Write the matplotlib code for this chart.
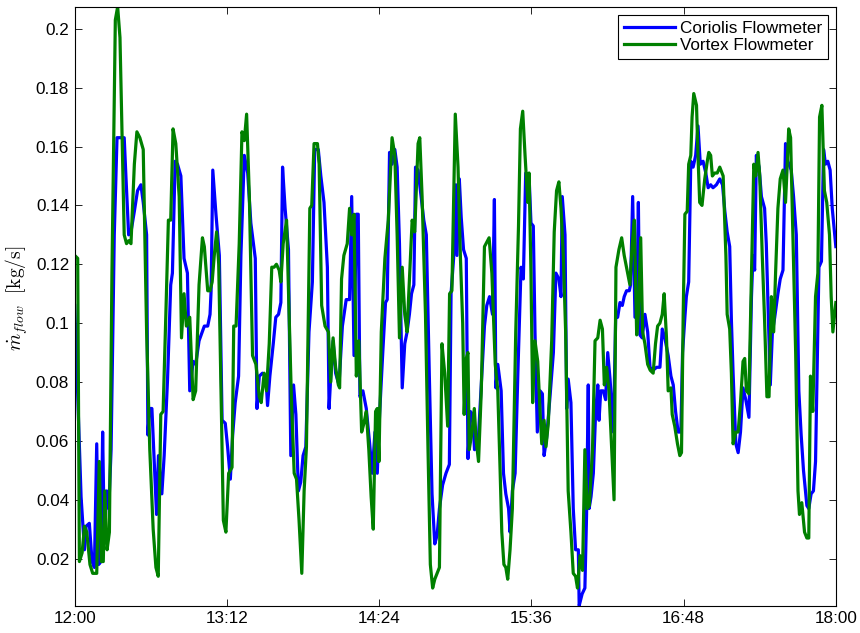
import matplotlib
matplotlib.use("Agg")
import matplotlib.pyplot as plt
import matplotlib.ticker as mticker

plt.rcParams['font.family'] = ['Liberation Sans', 'DejaVu Sans']
plt.rcParams['mathtext.fontset'] = 'cm'

# minutes after 12:00 and mass flow [kg/s]
coriolis_t = [0.0, 3.0, 4.6, 5.4, 6.9, 8.2, 9.3, 10.4, 11.3, 12.4, 13.2, 14.0, 15.1, 16.1, 17.2,
              18.7, 20.0, 21.9, 23.4, 24.2, 25.5, 26.6, 28.2, 29.7, 31.3, 32.4, 34.0, 34.6, 35.4,
              36.5, 38.7, 39.6, 41.2, 42.3, 43.9, 45.4, 46.2, 47.5, 48.6, 50.2, 51.7, 53.3, 54.4,
              56.0, 57.2, 58.8, 61.3, 62.9, 64.0, 64.5, 65.3, 66.8, 68.4, 69.7, 71.2, 72.3, 73.6,
              74.7, 75.9, 77.5, 78.6, 80.2, 81.8, 83.3, 85.4, 86.2, 87.3, 88.8, 90.4, 91.2, 92.3,
              93.9, 95.1, 96.4, 97.5, 98.3, 99.5, 101.1, 102.2, 103.5, 104.6, 105.8, 106.9, 108.0,
              109.3, 110.8, 112.4, 113.5, 115.2, 116.4, 117.9, 119.5, 120.3, 121.1, 122.2, 123.4,
              125.0, 126.6, 128.4, 130.0, 131.0, 132.1, 133.2, 134.1, 134.9, 136.3, 137.9, 139.5,
              140.7, 142.0, 143.1, 144.2, 145.7, 147.0, 147.8, 148.9, 150.1, 151.4, 152.5, 153.6,
              154.9, 156.1, 157.2, 158.3, 159.3, 160.4, 161.2, 162.4, 163.5, 165.1, 166.3, 167.7,
              169.0, 170.3, 171.4, 172.5, 174.0, 175.6, 177.2, 178.0, 179.2, 180.3, 180.8, 181.9,
              182.8, 183.9, 185.2, 186.0, 187.1, 188.2, 189.1, 190.7, 192.3, 193.8, 194.9, 196.2,
              197.6, 198.5, 199.2, 200.1, 201.7, 202.8, 203.9, 205.2, 205.9, 207.0, 208.3, 209.6,
              211.1, 212.2, 213.3, 214.9, 215.8, 216.9, 217.7, 218.8, 220.1, 221.2, 222.0, 223.2,
              224.8, 226.4, 227.6, 229.0, 230.0, 230.6, 231.9, 232.7, 233.4, 234.7, 235.8, 236.9,
              238.2, 238.6, 240.0, 241.3, 242.1, 242.9, 243.3, 244.2, 245.3, 246.4, 247.4, 248.0,
              248.8, 250.0, 251.1, 252.1, 253.2, 254.8, 255.9, 256.8, 257.9, 259.0, 259.9, 261.0,
              262.3, 262.9, 263.9, 265.0, 265.8, 266.6, 267.3, 268.4, 269.7, 271.0, 272.1, 273.6,
              275.2, 276.8, 277.9, 279.1, 280.7, 282.0, 283.1, 284.2, 285.4, 286.7, 287.5, 288.6,
              289.3, 290.4, 291.4, 292.5, 293.7, 294.8, 295.9, 297.2, 298.5, 299.6, 300.8, 301.9,
              303.5, 305.1, 306.4, 307.5, 308.6, 309.8, 310.6, 311.4, 312.7, 313.8, 314.9, 316.1,
              317.4, 318.9, 320.1, 320.8, 321.6, 322.4, 323.7, 324.8, 326.3, 327.1, 327.9, 329.0,
              330.0, 331.1, 332.6, 333.7, 335.0, 336.2, 337.3, 338.9, 340.0, 341.3, 342.5, 343.6,
              344.7, 346.3, 347.2, 348.3, 349.4, 350.4, 351.0, 352.0, 353.2, 354.2, 355.1, 356.2,
              357.3, 358.3, 360.0]
coriolis_m = [0.106, 0.041, 0.023, 0.031, 0.032, 0.019, 0.017, 0.059, 0.018, 0.019, 0.063, 0.026,
              0.043, 0.037, 0.057, 0.130, 0.163, 0.163, 0.163, 0.150, 0.130, 0.131, 0.138, 0.145,
              0.147, 0.141, 0.130, 0.062, 0.071, 0.071, 0.035, 0.055, 0.042, 0.055, 0.081, 0.113,
              0.117, 0.155, 0.154, 0.150, 0.122, 0.117, 0.077, 0.087, 0.086, 0.094, 0.099, 0.099,
              0.103, 0.111, 0.152, 0.137, 0.123, 0.067, 0.066, 0.058, 0.047, 0.062, 0.073, 0.082,
              0.123, 0.157, 0.151, 0.134, 0.122, 0.071, 0.082, 0.083, 0.082, 0.072, 0.082, 0.093,
              0.102, 0.103, 0.107, 0.153, 0.139, 0.125, 0.055, 0.079, 0.069, 0.043, 0.046, 0.055,
              0.058, 0.097, 0.114, 0.159, 0.159, 0.150, 0.141, 0.119, 0.071, 0.082, 0.094, 0.083,
              0.079, 0.099, 0.108, 0.108, 0.143, 0.089, 0.137, 0.137, 0.075, 0.077, 0.071, 0.059,
              0.049, 0.063, 0.049, 0.069, 0.090, 0.107, 0.108, 0.158, 0.154, 0.159, 0.153, 0.127,
              0.078, 0.093, 0.097, 0.103, 0.110, 0.113, 0.153, 0.152, 0.145, 0.135, 0.130, 0.083,
              0.042, 0.025, 0.028, 0.037, 0.045, 0.049, 0.052, 0.110, 0.122, 0.147, 0.123, 0.149,
              0.136, 0.125, 0.122, 0.054, 0.070, 0.069, 0.057, 0.058, 0.079, 0.099, 0.106, 0.109,
              0.103, 0.142, 0.078, 0.086, 0.077, 0.049, 0.042, 0.037, 0.029, 0.043, 0.049, 0.083,
              0.119, 0.115, 0.151, 0.150, 0.134, 0.133, 0.097, 0.063, 0.077, 0.076, 0.055, 0.061,
              0.075, 0.090, 0.117, 0.115, 0.109, 0.143, 0.130, 0.071, 0.081, 0.073, 0.037, 0.023,
              0.023, 0.004, 0.008, 0.010, 0.035, 0.079, 0.037, 0.041, 0.049, 0.070, 0.079, 0.067,
              0.077, 0.077, 0.074, 0.090, 0.081, 0.063, 0.103, 0.102, 0.107, 0.106, 0.109, 0.111,
              0.111, 0.113, 0.143, 0.102, 0.102, 0.141, 0.096, 0.095, 0.103, 0.097, 0.085, 0.084,
              0.085, 0.085, 0.098, 0.095, 0.089, 0.082, 0.079, 0.070, 0.063, 0.063, 0.090, 0.102,
              0.109, 0.114, 0.155, 0.153, 0.157, 0.167, 0.154, 0.155, 0.151, 0.146, 0.147, 0.146,
              0.147, 0.149, 0.147, 0.138, 0.131, 0.126, 0.101, 0.083, 0.059, 0.056, 0.063, 0.078,
              0.074, 0.068, 0.109, 0.123, 0.118, 0.157, 0.153, 0.143, 0.139, 0.127, 0.107, 0.079,
              0.097, 0.102, 0.110, 0.115, 0.118, 0.161, 0.155, 0.152, 0.143, 0.130, 0.077, 0.062,
              0.050, 0.038, 0.037, 0.042, 0.043, 0.053, 0.077, 0.119, 0.121, 0.159, 0.154, 0.155,
              0.152, 0.139, 0.126]

vortex_t = [0.0, 1.4, 2.2, 3.5, 4.6, 5.7, 7.2, 8.5, 10.4, 11.6, 12.6, 13.5, 14.2, 15.3, 16.4,
            17.6, 19.2, 20.3, 21.4, 23.4, 24.5, 25.5, 26.6, 28.2, 29.4, 30.8, 32.4, 34.0, 35.5,
            37.1, 38.4, 39.5, 40.7, 41.8, 43.1, 44.3, 45.4, 46.5, 47.8, 49.4, 50.5, 51.7, 52.8,
            54.4, 56.0, 57.2, 58.8, 60.4, 61.3, 62.9, 64.0, 65.0, 66.0, 67.1, 68.1, 69.2, 70.3,
            71.5, 72.8, 74.4, 75.2, 76.3, 77.8, 79.1, 80.2, 81.3, 82.6, 84.1, 85.7, 87.3, 88.2,
            89.6, 90.7, 92.0, 93.2, 94.3, 95.4, 96.7, 97.5, 98.6, 100.2, 101.4, 102.5, 103.8,
            104.9, 106.1, 107.4, 108.5, 109.6, 111.2, 112.1, 113.2, 114.0, 114.8, 115.6, 116.8,
            118.4, 120.0, 121.1, 122.2, 123.4, 124.7, 125.3, 126.2, 127.3, 128.9, 130.0, 131.0,
            132.1, 133.2, 134.4, 135.7, 136.8, 137.9, 139.1, 140.2, 141.2, 142.3, 143.1, 143.9,
            145.0, 146.7, 148.3, 150.1, 151.4, 152.5, 153.6, 154.9, 156.1, 157.2, 158.0, 159.6,
            160.8, 162.4, 163.2, 164.3, 165.9, 167.1, 168.2, 169.3, 170.3, 171.4, 172.5, 173.7,
            175.0, 176.4, 177.3, 178.4, 180.0, 181.3, 182.4, 183.5, 184.2, 185.2, 186.0, 186.6,
            187.9, 189.0, 189.9, 191.0, 192.3, 193.8, 196.0, 197.3, 198.9, 200.1, 201.2, 202.0,
            203.0, 203.9, 204.8, 205.9, 207.0, 208.6, 209.9, 210.8, 211.9, 213.0, 214.3, 214.9,
            215.8, 216.6, 217.7, 219.0, 220.1, 220.9, 222.0, 222.9, 224.0, 225.6, 226.8, 227.9,
            229.0, 230.0, 231.1, 232.2, 233.4, 234.7, 235.8, 236.9, 237.8, 239.0, 240.2, 241.3,
            242.4, 243.4, 244.9, 246.1, 247.4, 248.5, 249.6, 250.5, 251.6, 252.7, 254.0, 255.1,
            256.0, 257.4, 258.7, 259.9, 261.0, 262.6, 263.7, 264.7, 265.8, 266.6, 267.7, 268.6,
            269.7, 271.0, 272.2, 273.6, 274.7, 275.7, 276.8, 277.9, 278.8, 279.9, 280.7, 282.0,
            282.6, 283.8, 285.1, 286.2, 287.0, 287.8, 288.6, 289.7, 290.4, 291.4, 292.0, 292.8,
            294.1, 294.8, 295.6, 296.7, 298.0, 299.2, 299.9, 300.8, 301.6, 302.7, 303.9, 305.1,
            306.7, 308.0, 308.6, 309.8, 310.6, 311.4, 312.7, 313.8, 314.9, 316.1, 316.9, 317.7,
            318.9, 320.1, 321.2, 322.1, 323.2, 324.0, 325.2, 326.3, 327.4, 328.4, 329.5, 330.6,
            331.5, 332.6, 333.7, 335.0, 336.2, 336.9, 337.7, 338.6, 339.7, 341.0, 342.1, 342.8,
            343.9, 345.2, 346.3, 347.2, 348.0, 349.1, 350.4, 351.5, 352.3, 353.4, 354.6, 355.7,
            357.0, 357.8, 358.6, 360.0]
vortex_m = [0.123, 0.122, 0.019, 0.022, 0.031, 0.029, 0.018, 0.015, 0.015, 0.053, 0.019, 0.019,
            0.043, 0.023, 0.029, 0.117, 0.203, 0.2075, 0.197, 0.130, 0.127, 0.128, 0.127, 0.154,
            0.165, 0.163, 0.159, 0.097, 0.057, 0.030, 0.017, 0.014, 0.069, 0.070, 0.103, 0.135,
            0.135, 0.166, 0.161, 0.143, 0.095, 0.110, 0.099, 0.102, 0.074, 0.077, 0.113, 0.129,
            0.126, 0.111, 0.111, 0.114, 0.123, 0.131, 0.120, 0.077, 0.033, 0.029, 0.049, 0.051,
            0.099, 0.099, 0.127, 0.165, 0.162, 0.171, 0.143, 0.089, 0.086, 0.075, 0.073, 0.083,
            0.077, 0.093, 0.119, 0.119, 0.120, 0.118, 0.114, 0.127, 0.135, 0.103, 0.074, 0.049,
            0.047, 0.033, 0.015, 0.043, 0.058, 0.139, 0.140, 0.161, 0.161, 0.161, 0.154, 0.106,
            0.099, 0.097, 0.080, 0.095, 0.085, 0.079, 0.078, 0.115, 0.123, 0.127, 0.139, 0.130,
            0.137, 0.082, 0.094, 0.063, 0.066, 0.070, 0.057, 0.041, 0.030, 0.070, 0.071, 0.053,
            0.097, 0.122, 0.135, 0.163, 0.157, 0.130, 0.095, 0.119, 0.103, 0.097, 0.110, 0.135,
            0.131, 0.161, 0.163, 0.143, 0.103, 0.057, 0.018, 0.010, 0.013, 0.015, 0.017, 0.093,
            0.083, 0.065, 0.110, 0.111, 0.171, 0.153, 0.123, 0.100, 0.069, 0.088, 0.090, 0.057,
            0.063, 0.071, 0.060, 0.053, 0.077, 0.126, 0.129, 0.117, 0.086, 0.077, 0.050, 0.029,
            0.018, 0.017, 0.013, 0.023, 0.037, 0.097, 0.133, 0.166, 0.172, 0.157, 0.141, 0.151,
            0.117, 0.073, 0.094, 0.087, 0.070, 0.059, 0.067, 0.058, 0.066, 0.094, 0.131, 0.145,
            0.148, 0.139, 0.123, 0.097, 0.043, 0.029, 0.015, 0.014, 0.010, 0.021, 0.016, 0.057,
            0.037, 0.038, 0.057, 0.094, 0.095, 0.101, 0.098, 0.079, 0.085, 0.077, 0.057, 0.040,
            0.119, 0.125, 0.129, 0.123, 0.119, 0.113, 0.127, 0.135, 0.096, 0.103, 0.129, 0.097,
            0.093, 0.086, 0.084, 0.083, 0.093, 0.099, 0.100, 0.103, 0.110, 0.095, 0.077, 0.078,
            0.069, 0.065, 0.059, 0.055, 0.056, 0.103, 0.137, 0.138, 0.154, 0.157, 0.170, 0.178,
            0.174, 0.157, 0.141, 0.140, 0.149, 0.155, 0.158, 0.157, 0.150, 0.151, 0.151, 0.153,
            0.150, 0.123, 0.103, 0.098, 0.083, 0.059, 0.063, 0.063, 0.073, 0.087, 0.088, 0.077,
            0.076, 0.117, 0.154, 0.150, 0.158, 0.150, 0.123, 0.101, 0.075, 0.075, 0.109, 0.097,
            0.117, 0.139, 0.149, 0.152, 0.141, 0.152, 0.166, 0.163, 0.130, 0.090, 0.043, 0.035,
            0.039, 0.029, 0.027, 0.027, 0.082, 0.070, 0.109, 0.117, 0.170, 0.174, 0.145, 0.141,
            0.130, 0.109, 0.097, 0.107]

tick_minutes = [0, 72, 144, 216, 288, 360]
tick_labels = ['12:00', '13:12', '14:24', '15:36', '16:48', '18:00']

fig = plt.figure(figsize=(8.6, 6.33), dpi=100)
ax = fig.add_axes([0.0869, 0.0431, 0.885, 0.9463])

ax.plot(coriolis_t, coriolis_m, color=(0, 0, 1), lw=2.3, label='Coriolis Flowmeter')
ax.plot(vortex_t, vortex_m, color=(0, 0.5, 0), lw=2.3, label='Vortex Flowmeter')

ax.set_xlim(0, 360)
ax.set_ylim(0.004, 0.2075)
ax.set_xticks(tick_minutes)
ax.set_xticklabels(tick_labels)
ax.set_yticks([0.02, 0.04, 0.06, 0.08, 0.1, 0.12, 0.14, 0.16, 0.18, 0.2])
ax.yaxis.set_major_formatter(mticker.FuncFormatter(lambda v, p: '%g' % round(v, 3)))
ax.tick_params(direction='in', top=True, right=True, length=5, width=0.6,
               labelsize=12.3, pad=4)
for s in ax.spines.values():
    s.set_linewidth(0.8)

ax.set_ylabel(r'$\dot{m}_{flow}\ \ [\mathrm{kg}/\mathrm{s}]$', fontsize=14)
ax.yaxis.set_label_coords(-0.059, 0.514)

leg = ax.legend(loc='upper right', fontsize=12.3, fancybox=False, framealpha=1,
                edgecolor='black', borderaxespad=0.47, handlelength=3.0,
                handletextpad=0.25, borderpad=0.35, labelspacing=0.15)
leg.get_frame().set_linewidth(0.8)

fig.savefig('out.png', dpi=100)
